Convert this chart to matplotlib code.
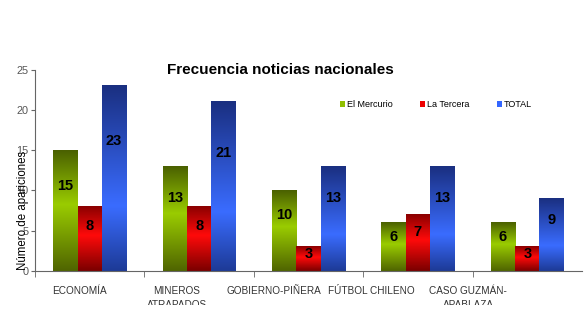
import numpy as np
import matplotlib
matplotlib.use("Agg")
import matplotlib.pyplot as plt
from matplotlib.colors import LinearSegmentedColormap
from matplotlib.transforms import Bbox

plt.rcParams["font.family"] = ["Liberation Sans", "DejaVu Sans"]

categories = ["ECONOMÍA", "MINEROS\nATRAPADOS", "GOBIERNO-PIÑERA", "FÚTBOL CHILENO", "CASO GUZMÁN-\nAPABLAZA"]
series = ["El Mercurio", "La Tercera", "TOTAL"]
mercurio = [15, 13, 10, 6, 6]
tercera = [8, 8, 3, 7, 3]
total = [23, 21, 13, 13, 9]

# top, bright, bottom colours of the gradient
grads = [
    ("#4f6400", "#9acc00", "#4a6000"),
    ("#7a0000", "#ff0a0a", "#8a0000"),
    ("#1d3a96", "#3a6cff", "#1a2f80"),
]
bright_pos = [0.55, 0.55, 0.35]
legend_colors = ["#8fbf00", "#ee0000", "#3366ff"]


def gradient_bar(ax, x0, w, h, cols, pos):
    cmap = LinearSegmentedColormap.from_list("g", [(0, cols[0]), (pos, cols[1]), (1, cols[2])])
    grad = np.linspace(0, 1, 256).reshape(-1, 1)
    ax.imshow(grad, cmap=cmap, extent=[x0, x0 + w, h, 0], origin="upper",
              aspect="auto", zorder=2, interpolation="bilinear")


def main():
    fig = plt.figure(figsize=(5.88, 3.28), dpi=100)
    ax = fig.add_axes([35 / 588, 57 / 328, 547 / 588, 201.5 / 328])

    x = np.arange(len(categories))
    w = 0.222
    data = [mercurio, tercera, total]
    for s, vals in enumerate(data):
        for i, v in enumerate(vals):
            x0 = x[i] - 1.5 * w + s * w
            gradient_bar(ax, x0, w, v, grads[s], bright_pos[s])
            ax.text(x0 + w / 2, v * 0.7, str(v), ha="center", va="center",
                    fontsize=10.5, fontweight="bold", color="black", zorder=3)
        ax.bar([0], [0], color=legend_colors[s], label=series[s])

    ax.set_xlim(-0.5, 4.5)
    ax.set_ylim(0, 25)
    ax.set_yticks([0, 5, 10, 15, 20, 25])
    # category labels sit on a slightly narrower spacing than the bars in the original
    ax.set_xticks(x * 0.887 - 0.09)
    ax.set_xticklabels(categories, fontsize=7.2, color="#333333", linespacing=1.45)
    ax.set_xticks(np.arange(0, 5) - 0.5, minor=True)
    ax.tick_params(axis="x", which="major", length=0, pad=11)
    ax.tick_params(axis="x", which="minor", length=4, color="#666666")
    ax.tick_params(axis="y", labelsize=7.8, labelcolor="#555555", length=3, pad=1.5, color="#666666")
    for sp in ["top", "right"]:
        ax.spines[sp].set_visible(False)
    for sp in ["left", "bottom"]:
        ax.spines[sp].set_color("#666666")

    # bottom labels are cut off in the original
    clip = Bbox.from_extents(0, 23, 588, 328)
    for lab in ax.get_xticklabels():
        lab.set_clip_on(True)
        lab.set_clip_box(clip)

    fig.text(23 / 588, 1 - 210 / 328, "Número de apariciones", rotation=90,
             ha="center", va="center", fontsize=8.3)
    fig.text(280 / 588, 1 - 70 / 328, "Frecuencia noticias nacionales",
             ha="center", va="center", fontsize=11, fontweight="bold")

    ax.legend(loc="center", bbox_to_anchor=(436 / 588, 1 - 105 / 328),
              bbox_transform=fig.transFigure, ncol=3, frameon=False, fontsize=6.5,
              handlelength=0.6, handleheight=0.6, handletextpad=0.2, columnspacing=3.0)

    fig.savefig("out.png", dpi=100)


if __name__ == "__main__":
    main()
